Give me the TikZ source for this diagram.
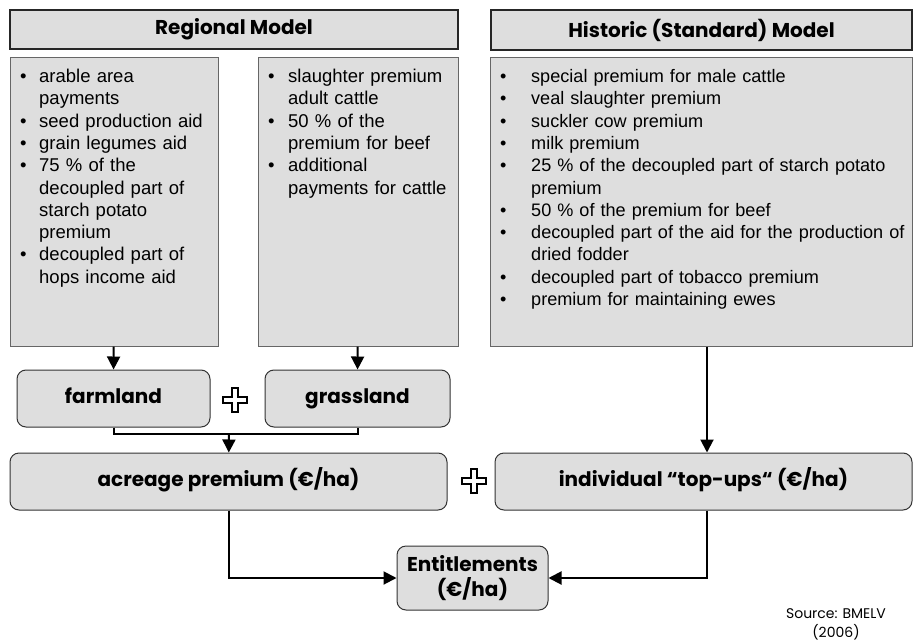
\documentclass[tikz,border=0pt]{standalone}
\usepackage{fontspec}
\setmainfont{Liberation Sans}
\newfontfamily\headfont{Poppins}
\usetikzlibrary{arrows.meta}

\newlength{\bulind}
\newcommand{\bitem}[1]{\par\hangindent=\bulind\hangafter=1\noindent\hbox to\bulind{\textbullet\hfil}#1}

\begin{document}
\begin{tikzpicture}[x=1pt,y=-1pt,
    header/.style={draw=black!85,line width=1.4pt,fill=black!13,inner sep=0pt,
      font=\headfont\bfseries\fontsize{20}{24}\selectfont},
    listbox/.style={draw=black!60,line width=1pt,fill=black!13,inner sep=0pt},
    listtext/.style={anchor=north west,inner sep=0pt,align=left,
      font=\fontsize{18.5}{22.3}\selectfont},
    roundbox/.style={draw=black!80,line width=1pt,fill=black!13,rounded corners=9pt,
      inner sep=0pt,align=center,font=\headfont\bfseries\fontsize{20}{24}\selectfont},
    oneline/.style={text height=15pt,text depth=5pt},
    arr/.style={line width=2pt,-{Triangle[length=13pt,width=13pt]}},
    link/.style={line width=2pt},
    plus sign/.pic={
      \draw[fill=white,line width=1.2pt] (-3,-12) -- (3,-12) -- (3,-3) -- (12,-3) -- (12,3)
        -- (3,3) -- (3,12) -- (-3,12) -- (-3,3) -- (-12,3) -- (-12,-3) -- (-3,-3) -- cycle;
    }]
  \useasboundingbox (0,0) rectangle (915,642);

  % headers
  \node[header,minimum width=448pt,minimum height=39pt] (reghead) at (234,29.5) {Regional Model};
  \node[header,minimum width=421pt,minimum height=40pt] (histhead) at (701.5,30) {Historic (Standard) Model};

  % lists of premiums
  \node[listbox,minimum width=208pt,minimum height=288pt] (lbox) at (114,202) {};
  \node[listbox,minimum width=200pt,minimum height=288pt] (mbox) at (358,202) {};
  \node[listbox,minimum width=422pt,minimum height=288pt] (hbox) at (701,202) {};

  \node[listtext,text width=192pt] (ltext) at (20,60) {\setlength{\bulind}{19pt}%
    \bitem{arable area\newline payments}
    \bitem{seed production aid}
    \bitem{grain legumes aid}
    \bitem{75 \% of the\newline decoupled part of\newline starch potato\newline premium}
    \bitem{decoupled part of\newline hops income aid}\par};
  \node[listtext,text width=190pt] (mtext) at (268,60) {\setlength{\bulind}{20pt}%
    \bitem{slaughter premium\newline adult cattle}
    \bitem{50 \% of the\newline premium for beef}
    \bitem{additional\newline payments for cattle}\par};
  \node[listtext,text width=418pt,font=\fontsize{18.1}{22.3}\selectfont] (htext) at (500,60) {\setlength{\bulind}{31pt}%
    \bitem{special premium for male cattle}
    \bitem{veal slaughter premium}
    \bitem{suckler cow premium}
    \bitem{milk premium}
    \bitem{25 \% of the decoupled part of starch potato\newline premium}
    \bitem{50 \% of the premium for beef}
    \bitem{decoupled part of the aid for the production of\newline dried fodder}
    \bitem{decoupled part of tobacco premium}
    \bitem{premium for maintaining ewes}\par};

  % land types and premiums
  \node[roundbox,oneline,minimum width=193pt,minimum height=57pt] (farm) at (113.5,398.5) {farmland};
  \node[roundbox,oneline,minimum width=185pt,minimum height=57pt] (grass) at (357.5,398.5) {grassland};
  \node[roundbox,oneline,minimum width=437pt,minimum height=57pt] (acre) at (228.5,481.5) {acreage premium (€/ha)};
  \node[roundbox,oneline,minimum width=417pt,minimum height=57pt] (tops) at (703.5,481.5) {individual “top-ups“ (€/ha)};
  \node[roundbox,minimum width=151pt,minimum height=64pt,font=\headfont\bfseries\fontsize{20}{25}\selectfont]
    (ent) at (472.5,578) {Entitlements\\(€/ha)};

  \pic at (235,400) {plus sign};
  \pic at (474,481) {plus sign};

  % connectors
  \coordinate (join) at (229,434);
  \draw[arr] (lbox) -- (farm);
  \draw[arr] (mbox) -- (grass);
  \draw[link] (farm.south) |- (join) -| (grass.south);
  \draw[arr] (join) -- (acre);
  \draw[arr] (hbox.south -| 707,0) -- (tops.north -| 707,0);
  \draw[arr] (acre.south) |- (ent.west);
  \draw[arr] (tops.south -| 707,0) |- (ent.east);

  \node[align=center,font=\headfont\fontsize{14}{19}\selectfont] (src) at (836,624) {Source: BMELV\\(2006)};
\end{tikzpicture}
\end{document}
